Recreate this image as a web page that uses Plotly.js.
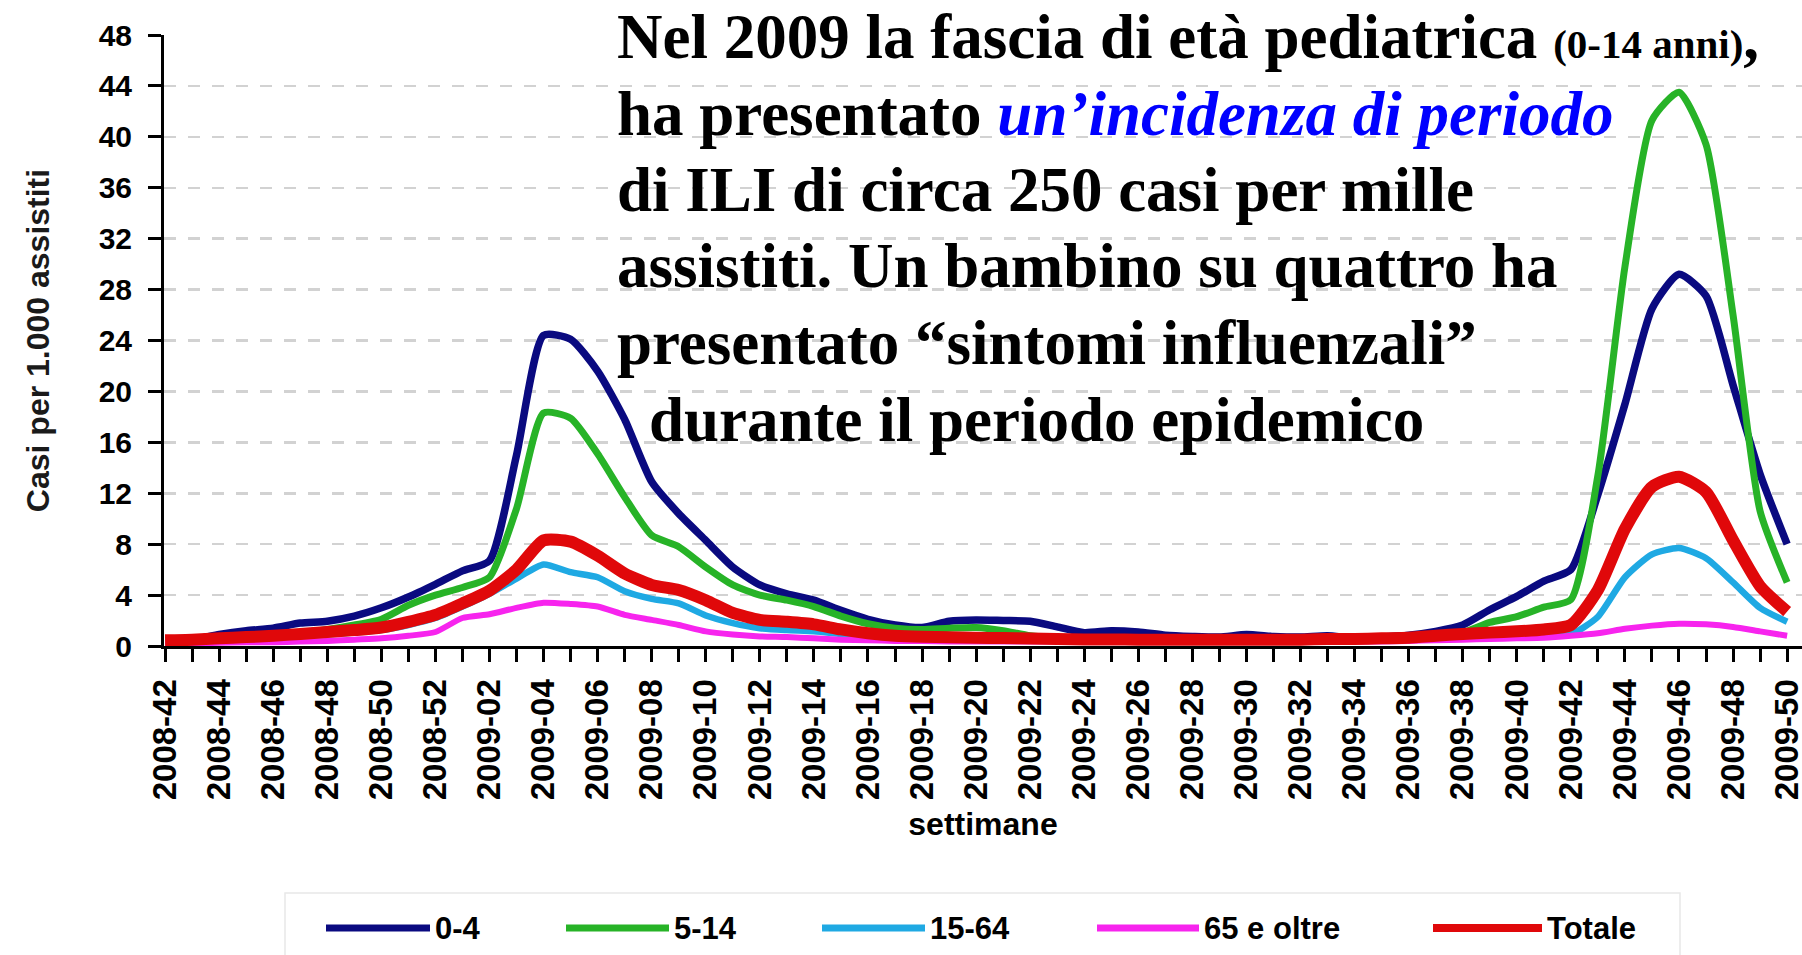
<!DOCTYPE html>
<html>
<head>
<meta charset="utf-8">
<script src="https://cdn.plot.ly/plotly-3.0.1.min.js"></script>
<style>
  html, body { margin: 0; padding: 0; background: #ffffff; }
  #chart { width: 1802px; height: 955px; }
</style>
</head>
<body>
<div id="chart"></div>
<script>
// ---------------- DATA ----------------
const weeks = [
  '2008-42','2008-43','2008-44','2008-45','2008-46','2008-47','2008-48','2008-49','2008-50','2008-51','2008-52',
  '2009-01','2009-02','2009-03','2009-04','2009-05','2009-06','2009-07','2009-08','2009-09','2009-10',
  '2009-11','2009-12','2009-13','2009-14','2009-15','2009-16','2009-17','2009-18','2009-19','2009-20',
  '2009-21','2009-22','2009-23','2009-24','2009-25','2009-26','2009-27','2009-28','2009-29','2009-30',
  '2009-31','2009-32','2009-33','2009-34','2009-35','2009-36','2009-37','2009-38','2009-39','2009-40',
  '2009-41','2009-42','2009-43','2009-44','2009-45','2009-46','2009-47','2009-48','2009-49','2009-50'
];

const age0_4 = [
  0.45,0.5,0.9,1.2,1.4,1.8,1.95,2.35,3.0,3.85,4.85,
  5.9,6.7,15.0,24.4,24.1,21.6,17.8,12.9,10.4,8.3,
  6.2,4.8,4.1,3.6,2.8,2.1,1.65,1.45,1.95,2.05,
  2.0,1.95,1.5,1.05,1.2,1.1,0.85,0.75,0.7,0.9,
  0.75,0.7,0.8,0.6,0.7,0.85,1.15,1.65,2.85,3.9,
  5.1,6.0,11.9,19.0,26.5,29.2,27.5,20.5,13.5,8.0
];
const age5_14 = [
  0.4,0.45,0.55,0.7,0.85,1.05,1.3,1.65,2.1,3.2,4.0,
  4.6,5.4,10.8,18.3,17.9,15.1,11.7,8.7,7.8,6.2,
  4.8,4.0,3.6,3.1,2.35,1.75,1.4,1.3,1.4,1.45,
  1.2,0.8,0.65,0.6,0.55,0.5,0.5,0.45,0.45,0.5,
  0.45,0.45,0.5,0.5,0.55,0.65,0.8,1.05,1.85,2.3,
  3.05,3.65,13.4,29.8,41.3,43.5,39.4,26.0,10.6,5.0
];
const age15_64 = [
  0.35,0.4,0.45,0.55,0.65,0.75,0.9,1.05,1.25,1.65,2.2,
  3.1,4.1,5.3,6.4,5.8,5.4,4.3,3.7,3.35,2.4,
  1.8,1.4,1.25,1.15,0.95,0.75,0.6,0.55,0.5,0.5,
  0.45,0.45,0.45,0.45,0.45,0.45,0.45,0.45,0.45,0.45,
  0.45,0.45,0.45,0.45,0.45,0.5,0.55,0.6,0.7,0.75,
  0.8,0.9,2.3,5.4,7.2,7.7,6.9,5.0,3.0,1.9
];
const age65plus = [
  0.2,0.2,0.25,0.3,0.3,0.35,0.4,0.5,0.6,0.8,1.1,
  2.2,2.5,3.0,3.4,3.3,3.1,2.45,2.05,1.65,1.15,
  0.9,0.75,0.7,0.6,0.5,0.45,0.4,0.4,0.35,0.35,
  0.35,0.35,0.35,0.35,0.35,0.35,0.35,0.35,0.35,0.35,
  0.35,0.35,0.35,0.35,0.35,0.4,0.45,0.5,0.55,0.6,
  0.65,0.8,1.0,1.35,1.6,1.75,1.7,1.5,1.15,0.8
];
const totale = [
  0.45,0.5,0.6,0.7,0.8,0.95,1.1,1.25,1.45,1.9,2.45,
  3.35,4.35,6.0,8.3,8.2,7.1,5.7,4.8,4.4,3.6,
  2.6,2.05,1.9,1.7,1.3,1.0,0.8,0.72,0.68,0.65,
  0.62,0.58,0.55,0.52,0.52,0.5,0.5,0.5,0.5,0.5,
  0.5,0.5,0.55,0.55,0.6,0.65,0.8,0.95,1.05,1.15,
  1.3,1.65,4.4,9.2,12.5,13.3,12.1,8.3,4.7,2.7
];

const seriesNames = ['0-4', '5-14', '15-64', '65 e oltre', 'Totale'];
const seriesValues = [age0_4, age5_14, age15_64, age65plus, totale];

// x tick labels: every second week
const tickLabels = weeks.map((w, i) => (i % 2 === 0 ? w : ''));

// ---------------- STYLE ----------------
const seriesColors = ['#0a0a80', '#27b327', '#1fa9e3', '#f724ee', '#e0080a'];
const seriesWidths = [7.5, 7, 6.5, 6, 12];
const legendWidths = [7, 7, 7, 7, 8];

const W = 1802, H = 955;
const M = { l: 164, r: 0, t: 35, b: 309 };
const plotW = W - M.l - M.r, plotH = H - M.t - M.b;
const px2x = px => (px - M.l) / plotW;
const px2y = py => (H - M.b - py) / plotH;

const sans = 'Liberation Sans, Arial, sans-serif';
const serif = 'Liberation Serif, Times New Roman, serif';

// legend layout (pixel positions of each item: line start, line end, text start)
const legendItems = [[326, 430, 433], [566, 669, 672], [822, 925, 928], [1097, 1199, 1202], [1433, 1542, 1545]];
const legendY = 928;

// ---------------- TRACES ----------------
const traces = seriesValues.map((vals, k) => ({
  type: 'scatter',
  mode: 'lines',
  x: weeks,
  y: vals,
  name: seriesNames[k],
  showlegend: false,
  line: { color: seriesColors[k], width: seriesWidths[k], shape: 'spline', smoothing: 0.6 },
  hoverinfo: 'skip'
}));

// ---------------- SHAPES / ANNOTATIONS ----------------
const shapes = [];
const annotations = [];

// legend frame
shapes.push({
  type: 'rect', xref: 'paper', yref: 'paper',
  x0: px2x(285), x1: px2x(1680), y0: px2y(893), y1: px2y(962),
  line: { color: '#e8e8e8', width: 1.5 }, fillcolor: 'rgba(0,0,0,0)'
});
legendItems.forEach((it, k) => {
  shapes.push({
    type: 'line', xref: 'paper', yref: 'paper',
    x0: px2x(it[0]), x1: px2x(it[1]), y0: px2y(legendY), y1: px2y(legendY),
    line: { color: seriesColors[k], width: legendWidths[k] }
  });
  annotations.push({
    xref: 'paper', yref: 'paper', x: px2x(it[2]), y: px2y(legendY),
    xanchor: 'left', yanchor: 'middle', showarrow: false,
    text: seriesNames[k],
    font: { family: sans, size: 31, weight: 'bold', color: '#000000' }
  });
});

// big explanatory text
const noteLines = [
  'Nel 2009 la fascia di età pediatrica <span style="font-size:41px">(0-14 anni)</span>,',
  'ha presentato <span style="color:#0000ff"><i>un’incidenza di periodo</i></span>',
  'di ILI di circa 250 casi per mille',
  'assistiti. Un bambino su quattro ha',
  'presentato “sintomi influenzali”',
  'durante il periodo epidemico'
];
const noteX = [615, 615, 615, 615, 615, 647];
const noteY = [36.5, 113.5, 190, 266, 343, 420];
noteLines.forEach((t, k) => {
  annotations.push({
    xref: 'paper', yref: 'paper', x: px2x(noteX[k]), y: px2y(noteY[k]),
    xanchor: 'left', yanchor: 'middle', showarrow: false,
    text: t,
    font: { family: serif, size: 63, weight: 'bold', color: '#000000' }
  });
});

// ---------------- LAYOUT ----------------
const layout = {
  width: W, height: H,
  margin: M,
  paper_bgcolor: '#ffffff',
  plot_bgcolor: '#ffffff',
  showlegend: false,
  xaxis: {
    type: 'category',
    range: [-0.04, 60.55],
    tickmode: 'array',
    tickvals: weeks,
    ticktext: tickLabels,
    tickangle: -90,
    tickfont: { family: sans, size: 33, weight: 'bold', color: '#000000' },
    ticks: 'outside', ticklen: 13, tickwidth: 3, tickcolor: '#000000',
    ticklabelstandoff: 4,
    showline: true, linecolor: '#000000', linewidth: 3,
    showgrid: false, zeroline: false,
    automargin: false,
    title: { text: 'settimane', font: { family: sans, size: 32, weight: 'bold', color: '#000000' }, standoff: 14 }
  },
  yaxis: {
    range: [0, 48],
    tick0: 0, dtick: 4,
    tickfont: { family: sans, size: 30, weight: 'bold', color: '#000000' },
    ticks: 'outside', ticklen: 13, tickwidth: 3, tickcolor: '#000000',
    ticklabelstandoff: 10,
    showline: true, linecolor: '#000000', linewidth: 3,
    showgrid: true, gridcolor: '#d2d2d2', gridwidth: 2.5, griddash: '12px,12px',
    zeroline: false,
    automargin: false,
    title: { text: 'Casi per 1.000 assistiti', font: { family: sans, size: 32, weight: 'bold', color: '#1a1a1a' }, standoff: 40 }
  },
  shapes: shapes,
  annotations: annotations
};

Plotly.newPlot('chart', traces, layout, { staticPlot: true, displayModeBar: false });
</script>
</body>
</html>
